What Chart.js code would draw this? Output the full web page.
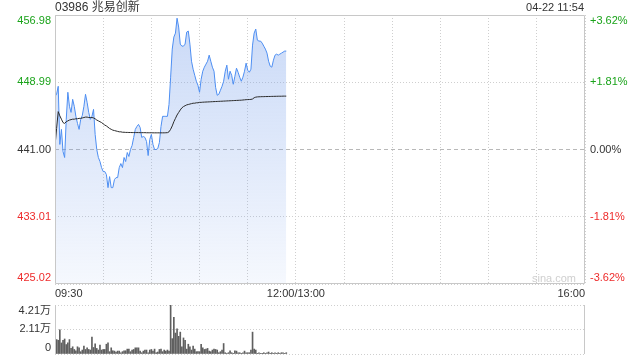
<!DOCTYPE html>
<html>
<head>
<meta charset="utf-8">
<script src="https://cdn.jsdelivr.net/npm/chart.js@4.4.1/dist/chart.umd.min.js"></script>
<style>
  html, body { margin: 0; padding: 0; background: #fff; }
  #wrap { position: relative; width: 640px; height: 360px; overflow: hidden;
          font-family: "Liberation Sans", Arial, "Noto Sans CJK SC", sans-serif; color: #333; }
  canvas { position: absolute; left: 0; }
  #c1 { top: 0; }
  #c2 { top: 300px; }
  .txt { position: absolute; white-space: nowrap; }
  #title { left: 55px; top: 0px; font-size: 12px; line-height: 15px; }
  #stamp { right: 56px; top: 0px; font-size: 11px; line-height: 15px; text-align: right; }
  #mark { left: 532px; top: 272px; font-size: 11px; line-height: 13px; color: #cfcfcf; }
</style>
</head>
<body>
<div id="wrap">
  <canvas id="c1" width="640" height="300"></canvas>
  <canvas id="c2" width="640" height="60"></canvas>
  <div class="txt" id="title">03986 兆易创新</div>
  <div class="txt" id="stamp">04-22 11:54</div>
  <div class="txt" id="mark">sina.com</div>
</div>
<script>
// ---- data (minute index from 09:30, session is 330 trading minutes) ----
const prices = [
  447.32, 447.56, 448.51, 441.60, 443.39, 440.76, 440.05, 444.58, 447.80, 446.13,
  445.41, 446.96, 446.13, 444.94, 444.10, 443.39, 444.58, 445.05, 446.13, 447.56,
  446.60, 445.41, 444.58, 444.94, 445.77, 442.79, 441.00, 440.05, 439.57, 438.85,
  438.38, 438.38, 438.02, 436.47, 437.78, 436.47, 436.47, 437.42, 437.66, 437.66,
  438.85, 439.33, 438.85, 440.05, 439.57, 440.64, 440.17, 441.00, 441.48, 442.43,
  443.39, 443.74, 443.98, 443.62, 442.43, 442.55, 442.43, 441.95, 440.28, 442.19,
  442.79, 441.60, 441.00, 441.00, 441.12, 441.83, 443.74, 444.94, 444.94, 444.94,
  444.94, 446.37, 449.59, 452.93, 454.36, 454.83, 456.60, 455.55, 453.52, 453.28,
  453.28, 453.52, 454.95, 455.07, 453.52, 451.49, 450.54, 449.82, 449.11, 448.63,
  447.80, 449.35, 450.30, 450.78, 451.14, 451.49, 452.21, 451.49, 450.78, 450.30,
  448.39, 447.44, 447.56, 448.04, 448.51, 449.11, 450.30, 451.02, 449.35, 450.30,
  449.82, 448.75, 449.70, 450.66, 450.18, 449.59, 449.11, 449.59, 450.30, 451.26,
  450.42, 450.18, 450.54, 453.40, 454.83, 455.31, 453.99, 453.88, 453.88, 453.64,
  453.28, 452.93, 452.45, 451.49, 450.90, 450.78, 451.61, 452.21, 452.33, 452.21,
  452.33, 452.45, 452.57, 452.69, 452.69
];
const avgPrices = [
  441.40, 443.50, 445.50, 445.00, 444.60, 444.20, 444.10, 444.30, 444.40, 444.50,
  444.55, 444.60, 444.60, 444.65, 444.65, 444.70, 444.70, 444.75, 444.80, 444.85,
  444.85, 444.80, 444.80, 444.80, 444.75, 444.65, 444.50, 444.40, 444.30, 444.20,
  444.05, 443.90, 443.80, 443.65, 443.50, 443.40, 443.30, 443.25, 443.20, 443.15,
  443.10, 443.10, 443.05, 443.05, 443.03, 443.03, 443.02, 443.02, 443.01, 443.01,
  443.01, 443.01, 443.01, 443.00, 443.00, 443.00, 443.00, 442.99, 442.99, 442.99,
  442.99, 442.98, 442.98, 442.98, 442.98, 442.98, 442.98, 442.98, 442.98, 442.99,
  443.00, 443.10, 443.40, 443.80, 444.30, 444.70, 445.10, 445.40, 445.70, 445.95,
  446.10, 446.20, 446.30, 446.35, 446.40, 446.45, 446.50, 446.50, 446.55, 446.55,
  446.60, 446.60, 446.62, 446.63, 446.64, 446.65, 446.66, 446.67, 446.68, 446.69,
  446.70, 446.71, 446.72, 446.73, 446.74, 446.75, 446.76, 446.77, 446.78, 446.79,
  446.80, 446.81, 446.82, 446.83, 446.84, 446.85, 446.86, 446.88, 446.90, 446.92,
  446.93, 446.94, 446.95, 447.00, 447.15, 447.22, 447.25, 447.26, 447.27, 447.28,
  447.28, 447.29, 447.29, 447.30, 447.30, 447.31, 447.31, 447.32, 447.32, 447.33,
  447.33, 447.33, 447.34, 447.34, 447.34
];
const volumes = [ // 万股
  1.74, 1.24, 1.18, 2.08, 0.95, 1.18, 1.29, 0.81, 0.95, 1.24,
  0.48, 0.62, 0.39, 0.28, 0.62, 0.53, 0.20, 0.34, 0.67, 0.39,
  0.53, 0.39, 0.34, 1.46, 0.56, 0.87, 0.48, 0.34, 0.76, 0.34,
  0.39, 0.39, 0.84, 0.95, 0.20, 0.53, 0.28, 0.25, 0.17, 0.25,
  0.25, 0.11, 0.20, 0.28, 0.28, 0.42, 0.42, 0.20, 0.34, 0.39,
  0.53, 0.53, 0.53, 0.25, 0.11, 0.25, 0.34, 0.34, 0.11, 0.34,
  0.39, 0.25, 0.42, 0.11, 0.17, 0.39, 0.42, 0.20, 0.34, 0.25,
  0.34, 0.25, 4.21, 1.32, 3.14, 1.80, 2.16, 1.52, 1.88, 0.62,
  1.38, 1.18, 0.42, 0.84, 0.62, 0.34, 0.67, 0.42, 0.20, 0.20,
  0.20, 0.84, 0.53, 0.39, 0.42, 0.48, 0.25, 0.20, 0.34, 0.42,
  0.39, 0.34, 0.11, 0.20, 0.34, 0.90, 0.11, 0.06, 0.11, 0.28,
  0.11, 0.06, 0.28, 0.25, 0.11, 0.11, 0.06, 0.11, 0.25, 0.11,
  0.11, 0.11, 0.34, 1.88, 0.42, 0.34, 0.06, 0.11, 0.06, 0.06,
  0.11, 0.06, 0.11, 0.17, 0.06, 0.11, 0.06, 0.11, 0.06, 0.11,
  0.06, 0.11, 0.11, 0.06, 0.11
];
const prevClose = 441.00;
const priceTicks = [425.02, 433.01, 441.00, 448.99, 456.98];
const priceTickLabels = ['425.02', '433.01', '441.00', '448.99', '456.98'];
const pctTicks = [-3.62, -1.81, 0, 1.81, 3.62];
const pctTickLabels = ['-3.62%', '-1.81%', '0.00%', '+1.81%', '+3.62%'];
const volTicks = [0, 2.11, 4.21];
const volTickLabels = ['0', '2.11万', '4.21万'];
const timeGrid = [0, 30, 60, 90, 120, 150, 180, 210, 240, 270, 300, 330];
const timeLabels = { 0: '09:30', 150: '12:00/13:00', 330: '16:00' };
const sessionMinutes = 330;

// ---- styling helpers ----
const FONT = "'Liberation Sans', Arial, 'Noto Sans CJK SC', sans-serif";
const GREEN = '#1aa31a', RED = '#ee2b2b', DARK = '#333333';
const GRID = '#cfcfcf';

// place first/last labels inside the plot (below top line / above bottom line)
function edgeLabel(label, index, count) {
  if (index === count - 1) return ['', label];
  if (index === 0) return [label, ''];
  return label;
}
function fixedAxis(width) {
  return function (s) { s.width = width; s.paddingTop = 0; s.paddingBottom = 0; };
}
const frame = {
  id: 'frame',
  afterDraw(chart, args, opts) {
    const { ctx, chartArea: a } = chart;
    const L = Math.round(a.left) + 0.5, R = Math.round(a.right) - 0.5;
    const T = Math.round(a.top) + 0.5, B = Math.round(a.bottom) - 0.5;
    ctx.save();
    ctx.setLineDash([]);
    ctx.strokeStyle = opts.color || '#c8c8c8';
    ctx.lineWidth = 1;
    ctx.beginPath();
    if (opts.full) {
      ctx.rect(L, T, R - L, B - T);
    } else {
      ctx.moveTo(L, a.top); ctx.lineTo(L, a.bottom);
      ctx.moveTo(R, a.top); ctx.lineTo(R, a.bottom);
    }
    ctx.stroke();
    ctx.restore();
  }
};

const minutes = prices.map((_, i) => i);
const pricePts = minutes.map((m, i) => ({ x: m, y: prices[i] }));
const avgPts = minutes.map((m, i) => ({ x: m, y: avgPrices[i] }));
const volPts = minutes.map((m, i) => ({ x: m, y: volumes[i] }));

Chart.defaults.font.family = FONT;
Chart.defaults.font.size = 11;
Chart.defaults.color = DARK;

new Chart(document.getElementById('c1'), {
  type: 'line',
  data: {
    datasets: [
      {
        data: avgPts, borderColor: '#2b2b2b', borderWidth: 1, pointRadius: 0,
        tension: 0, fill: false, order: 0
      },
      {
        data: pricePts, borderColor: '#4d8ef2', borderWidth: 1, pointRadius: 0,
        tension: 0, fill: 'start', order: 1,
        backgroundColor: (c) => {
          const { ctx, chartArea } = c.chart;
          if (!chartArea) return 'rgba(120,160,235,0.3)';
          const g = ctx.createLinearGradient(0, chartArea.top, 0, chartArea.bottom);
          g.addColorStop(0, 'rgba(120,160,235,0.40)');
          g.addColorStop(1, 'rgba(120,160,235,0.07)');
          return g;
        }
      }
    ]
  },
  options: {
    responsive: false, animation: false, devicePixelRatio: 1,
    layout: { padding: { top: 15, left: 0, right: 0, bottom: 0 } },
    plugins: { legend: { display: false }, tooltip: { enabled: false }, frame: { full: true, color: '#c8c8c8' } },
    scales: {
      x: {
        type: 'linear', min: 0, max: sessionMinutes, offset: false,
        afterBuildTicks: (s) => { s.ticks = timeGrid.map(v => ({ value: v })); },
        afterFit: (s) => { s.height = 16; s.paddingLeft = 0; s.paddingRight = 0; },
        grid: { color: GRID, drawTicks: false, lineWidth: 1 },
        border: { display: false, dash: [1, 2] },
        ticks: {
          autoSkip: false, maxRotation: 0, align: 'inner', padding: 3, color: DARK,
          font: { size: 11, family: FONT },
          callback: (v) => timeLabels[v] || ''
        }
      },
      y: {
        position: 'left', min: priceTicks[0], max: priceTicks[priceTicks.length - 1],
        afterBuildTicks: (s) => { s.ticks = priceTicks.map(v => ({ value: v })); },
        afterFit: fixedAxis(55),
        grid: { color: (c) => (c.tick && c.tick.value === prevClose ? '#b8b8b8' : GRID), drawTicks: false },
        border: { display: false, dash: (c) => (c.tick && c.tick.value === prevClose ? [4, 3] : [1, 2]) },
        ticks: {
          autoSkip: false, padding: 4, font: { size: 11, family: FONT, lineHeight: 1.1 },
          color: (c) => (c.tick.value > prevClose ? GREEN : c.tick.value < prevClose ? RED : DARK),
          callback: (v, i, t) => edgeLabel(priceTickLabels[priceTicks.indexOf(v)], i, t.length)
        }
      },
      y2: {
        position: 'right', min: pctTicks[0], max: pctTicks[pctTicks.length - 1],
        afterBuildTicks: (s) => { s.ticks = pctTicks.map(v => ({ value: v })); },
        afterFit: fixedAxis(55),
        grid: { drawOnChartArea: false, drawTicks: false },
        border: { display: false },
        ticks: {
          autoSkip: false, padding: 5, font: { size: 11, family: FONT, lineHeight: 1.1 },
          color: (c) => (c.tick.value > 0 ? GREEN : c.tick.value < 0 ? RED : DARK),
          callback: (v, i, t) => edgeLabel(pctTickLabels[pctTicks.indexOf(v)], i, t.length)
        }
      }
    }
  },
  plugins: [frame]
});

new Chart(document.getElementById('c2'), {
  type: 'bar',
  data: {
    datasets: [{ data: volPts, backgroundColor: '#5f5f5f', borderWidth: 0, barThickness: 1 }]
  },
  options: {
    responsive: false, animation: false, devicePixelRatio: 1,
    layout: { padding: { top: 5, left: 0, right: 55, bottom: 6 } },
    plugins: { legend: { display: false }, tooltip: { enabled: false }, frame: { full: false, color: '#c8c8c8' } },
    scales: {
      x: { type: 'linear', min: 0, max: sessionMinutes, offset: false, display: false, grid: { offset: false } },
      y: {
        position: 'left', min: volTicks[0], max: volTicks[volTicks.length - 1],
        afterBuildTicks: (s) => { s.ticks = volTicks.map(v => ({ value: v })); },
        afterFit: fixedAxis(55),
        grid: { color: GRID, drawTicks: false },
        border: { display: false, dash: [1, 2] },
        ticks: {
          autoSkip: false, padding: 4, color: DARK, font: { size: 11, family: FONT, lineHeight: 1.1 },
          callback: (v, i, t) => edgeLabel(volTickLabels[volTicks.indexOf(v)], i, t.length)
        }
      }
    }
  },
  plugins: [frame]
});
</script>
</body>
</html>
